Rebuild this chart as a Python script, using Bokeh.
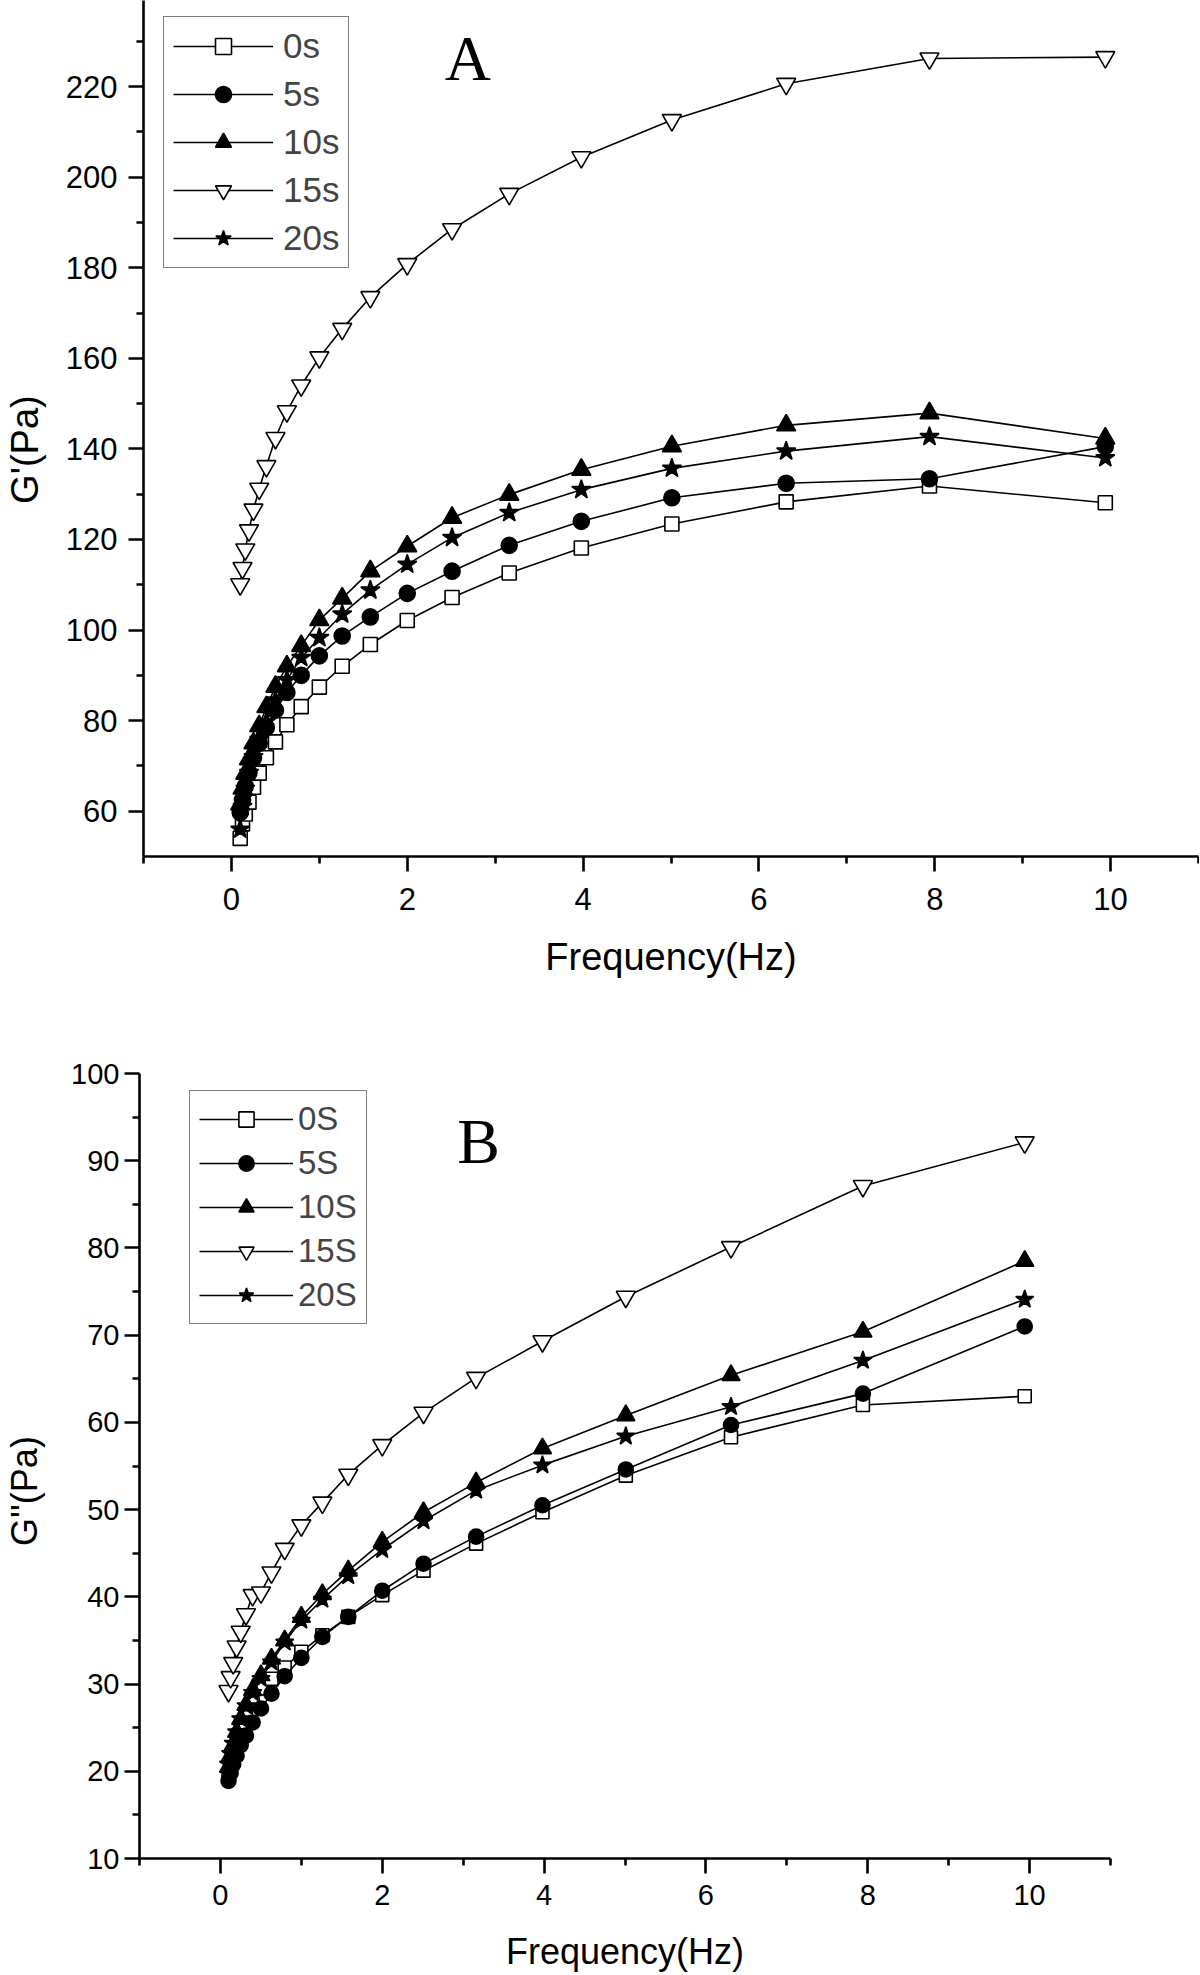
import math
from bokeh.plotting import figure
from bokeh.models import FixedTicker, Legend, LegendItem, Label, Range1d
from bokeh.layouts import column
from bokeh.embed import file_html
from bokeh.resources import INLINE

# ---------------- data ----------------
freq = [0.1, 0.126, 0.158, 0.2, 0.251, 0.316, 0.398, 0.501, 0.631, 0.794,
        1.0, 1.26, 1.58, 2.0, 2.51, 3.16, 3.98, 5.01, 6.31, 7.94, 9.94]

# Panel A: G' (Pa)
a_labels = ["0s", "5s", "10s", "15s", "20s"]
a_0s = [54.0, 57.2, 59.4, 62.0, 65.3, 68.4, 71.8, 75.3, 79.1, 83.1, 87.4,
        92.0, 96.8, 102.1, 107.2, 112.6, 118.1, 123.4, 128.3, 131.8, 128.1]
a_5s = [59.7, 62.5, 65.5, 68.5, 71.8, 75.0, 78.5, 82.3, 86.2, 90.0, 94.3,
        98.7, 102.9, 108.1, 113.0, 118.7, 124.0, 129.2, 132.4, 133.4, 140.5]
a_10s = [61.5, 65.0, 68.3, 71.5, 75.0, 78.8, 83.0, 87.5, 92.0, 96.5, 102.2,
         107.0, 113.0, 118.5, 124.8, 129.9, 135.4, 140.6, 145.2, 147.9, 142.3]
a_15s = [110.1, 113.7, 117.8, 122.0, 126.6, 131.2, 136.2, 142.4, 148.3, 154.0, 160.2,
         166.5, 173.5, 180.8, 188.5, 196.3, 204.4, 212.6, 220.6, 226.2, 226.5]
a_20s = [56.0, 61.0, 65.0, 68.5, 72.0, 75.8, 79.8, 84.5, 89.0, 93.9, 98.3,
         103.5, 108.8, 114.5, 120.4, 125.9, 131.0, 135.7, 139.5, 142.7, 138.0]

# Panel B: G'' (Pa)
b_labels = ["0S", "5S", "10S", "15S", "20S"]
b_0s = [19.6, 20.8, 22.0, 23.3, 24.7, 26.2, 27.8, 29.5, 30.6, 31.9, 33.7,
        35.6, 37.7, 40.2, 43.0, 46.1, 49.7, 53.9, 58.3, 62.0, 63.0]
b_5s = [18.9, 19.8, 20.8, 21.8, 23.0, 24.1, 25.6, 27.2, 28.9, 30.9, 33.0,
        35.4, 37.7, 40.7, 43.8, 46.9, 50.5, 54.6, 59.7, 63.3, 71.0]
b_10s = [20.5, 21.8, 23.0, 24.5, 26.0, 27.6, 29.3, 31.0, 32.9, 35.0, 37.7,
         40.3, 43.0, 46.3, 49.7, 53.1, 57.0, 60.8, 65.4, 70.4, 78.5]
b_15s = [29.2, 30.8, 32.4, 34.3, 36.0, 38.0, 40.2, 40.5, 42.8, 45.5, 48.2,
         50.8, 54.0, 57.4, 61.1, 65.1, 69.3, 74.4, 80.1, 87.1, 92.1]
b_20s = [20.8, 22.0, 23.2, 24.5, 26.0, 27.5, 29.0, 30.6, 32.5, 34.8, 37.3,
         39.7, 42.4, 45.4, 48.7, 52.2, 55.1, 58.4, 61.8, 67.1, 74.1]

x_major = [0, 2, 4, 6, 8, 10]
x_minor = [-1, 1, 3, 5, 7, 9, 11]
a_y_major = [60, 80, 100, 120, 140, 160, 180, 200, 220]
a_y_minor = [70, 90, 110, 130, 150, 170, 190, 210, 230]
b_y_major = [10, 20, 30, 40, 50, 60, 70, 80, 90, 100]
b_y_minor = [15, 25, 35, 45, 55, 65, 75, 85, 95]

# marker styles: (marker, fill)
styles = [("square", "white"), ("circle", "black"), ("triangle", "black"),
          ("inverted_triangle", "white"), ("star", "black")]

FONT = "Liberation Sans"
NBSP = "\u00a0"


def style_axes(p, ymaj, ymin, tick_size, tick_standoff_x, tick_standoff_y):
    p.xaxis.ticker = FixedTicker(ticks=x_major, minor_ticks=x_minor)
    p.yaxis.ticker = FixedTicker(ticks=ymaj, minor_ticks=ymin)
    p.xgrid.visible = False
    p.ygrid.visible = False
    p.outline_line_color = None
    p.background_fill_color = "white"
    p.border_fill_color = "white"
    for ax in (p.xaxis[0], p.yaxis[0]):
        ax.axis_line_width = 2.6
        ax.axis_line_color = "black"
        ax.major_tick_line_width = 2.6
        ax.minor_tick_line_width = 2.6
        ax.major_tick_line_color = "black"
        ax.minor_tick_line_color = "black"
        ax.major_tick_in = 0
        ax.minor_tick_in = 0
        ax.major_tick_out = 15
        ax.minor_tick_out = 7
        ax.major_label_text_font = FONT
        ax.major_label_text_font_size = tick_size
        ax.major_label_text_color = "black"
        ax.axis_label_text_font = FONT
        ax.axis_label_text_font_style = "normal"
        ax.axis_label_text_color = "black"
    p.xaxis[0].major_label_standoff = tick_standoff_x
    p.yaxis[0].major_label_standoff = tick_standoff_y


def add_series(p, series, labels, sizes):
    items = []
    for ys, lab, (mk, fill), sz in zip(series, labels, styles, sizes):
        ln = p.line(freq, ys, line_color="black", line_width=1.6)
        sc = p.scatter(freq, ys, marker=mk, size=sz, fill_color=fill,
                       line_color="black", line_width=1.6)
        items.append(LegendItem(label=lab, renderers=[ln, sc]))
    return items


# ---------------- Panel A ----------------
pA = figure(width=1199, height=1000, output_backend="svg", toolbar_location=None,
            x_range=Range1d(-1, 11), y_range=Range1d(50, 239.0),
            min_border_left=141, min_border_right=1, min_border_top=0,
            min_border_bottom=144, frame_align=False)
style_axes(pA, a_y_major, a_y_minor, "31px", 16, 11)
pA.xaxis.axis_label = "Frequency(Hz)"
pA.xaxis.axis_label_text_font_size = "38px"
pA.xaxis.axis_label_standoff = 23
# trailing no-break spaces shift the centred label down, as in the original
pA.yaxis.axis_label = "G'(Pa)" + NBSP * 4
pA.yaxis.axis_label_text_font_size = "38px"
pA.yaxis.axis_label_standoff = 17

itemsA = add_series(pA, [a_0s, a_5s, a_10s, a_15s, a_20s], a_labels,
                    [14, 16, 19, 19, 20])
legA = Legend(items=itemsA, location=(20, 588), padding=9, spacing=8,
              label_height=40, glyph_height=40, glyph_width=100,
              label_standoff=10, label_text_font=FONT, label_text_font_size="35px",
              border_line_color="black", border_line_width=1.5,
              background_fill_color="white", background_fill_alpha=1.0, margin=0)
pA.add_layout(legA)
pA.add_layout(Label(x=2.69, y=226.1, text="A", text_align="center",
                    text_baseline="alphabetic", text_font="Liberation Serif",
                    text_font_size="64px", text_color="black"))

# ---------------- Panel B ----------------
pB = figure(width=1199, height=974, output_backend="svg", toolbar_location=None,
            x_range=Range1d(-1, 11), y_range=Range1d(10, 100),
            min_border_left=139, min_border_right=89, min_border_top=73,
            min_border_bottom=114, frame_align=False)
style_axes(pB, b_y_major, b_y_minor, "29px", 11, 5)
pB.xaxis.axis_label = "Frequency(Hz)"
pB.xaxis.axis_label_text_font_size = "36px"
pB.xaxis.axis_label_standoff = 23
pB.yaxis.axis_label = "G''(Pa)" + NBSP * 5
pB.yaxis.axis_label_text_font_size = "36px"
pB.yaxis.axis_label_standoff = 23

itemsB = add_series(pB, [b_0s, b_5s, b_10s, b_15s, b_20s], b_labels,
                    [13, 15, 18, 19, 19])
legB = Legend(items=itemsB, location=(50, 534), padding=9, spacing=6,
              label_height=38, glyph_height=38, glyph_width=94,
              label_standoff=5, label_text_font=FONT, label_text_font_size="33px",
              border_line_color="black", border_line_width=1.5,
              background_fill_color="white", background_fill_alpha=1.0, margin=0)
pB.add_layout(legB)
pB.add_layout(Label(x=3.19, y=92.2, text="B", text_align="center",
                    text_baseline="alphabetic", text_font="Liberation Serif",
                    text_font_size="64px", text_color="black"))

layout = column(pA, pB, spacing=0)
open("out.html", "w").write(file_html(layout, INLINE))
